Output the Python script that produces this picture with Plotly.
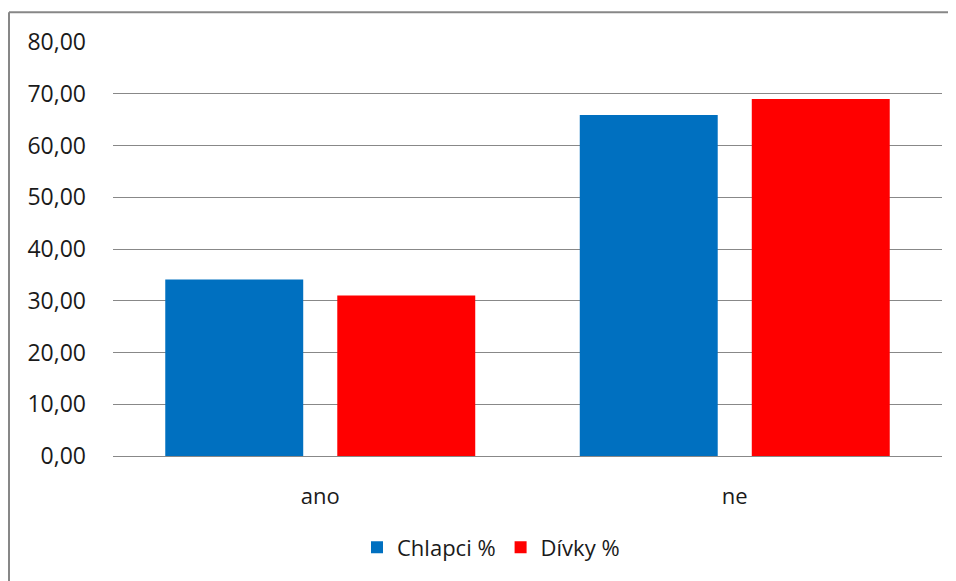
import plotly.graph_objects as go

categories = ["ano", "ne"]
chlapci = [34.1, 65.9]
divky = [31.0, 69.0]
series_names = ["Chlapci %", "Dívky %"]
y_ticks = [0, 10, 20, 30, 40, 50, 60, 70, 80]

# page body has an 8px margin, so figure coords = screen coords - 8
OFF = 8
W, H = 956 - OFF, 581 - OFF
L, R, T, B = 113 - OFF, 14, 42 - OFF, 123
pw, ph = W - L - R, H - T - B

fig = go.Figure()
fig.add_trace(go.Bar(x=categories, y=chlapci, name=series_names[0],
                     marker=dict(color="#0070C0", line=dict(width=0))))
fig.add_trace(go.Bar(x=categories, y=divky, name=series_names[1],
                     marker=dict(color="#FF0000", line=dict(width=0))))

def px_x(p):
    return (p - OFF - L) / pw

def px_y(p):
    return (H - B - (p - OFF)) / ph

border = dict(color="#878787", width=2)
fig.add_shape(type="line", xref="paper", yref="paper",
              x0=px_x(9), x1=px_x(1000), y0=px_y(12), y1=px_y(12),
              line=border, layer="below")
fig.add_shape(type="line", xref="paper", yref="paper",
              x0=px_x(9), x1=px_x(9), y0=px_y(12), y1=px_y(640),
              line=border, layer="below")

fig.update_layout(
    width=W, height=H,
    margin=dict(l=L, r=R, t=T, b=B),
    paper_bgcolor="white", plot_bgcolor="white",
    separators=",.",
    barmode="group", bargap=0.17, bargroupgap=0.198,
    font=dict(family="Open Sans", size=22, color="#1a1a1a"),
    showlegend=True,
    legend=dict(orientation="h", x=px_x(491), xanchor="center",
                y=px_y(550), yanchor="middle",
                font=dict(family="Open Sans", size=22, color="#1a1a1a"),
                itemwidth=30, traceorder="normal"),
    xaxis=dict(showgrid=False, showline=False, ticks="",
               ticklabelstandoff=25,
               tickfont=dict(family="Open Sans", size=22, color="#1a1a1a")),
    yaxis=dict(range=[0, 80], tickvals=y_ticks, tickformat=".2f",
               showgrid=True, gridcolor="#888888", gridwidth=1,
               zeroline=True, zerolinecolor="#888888", zerolinewidth=1,
               showline=False, ticks="", ticklabelstandoff=26,
               tickfont=dict(family="Open Sans", size=23, color="#1a1a1a")),
)

fig.write_html("out.html")
